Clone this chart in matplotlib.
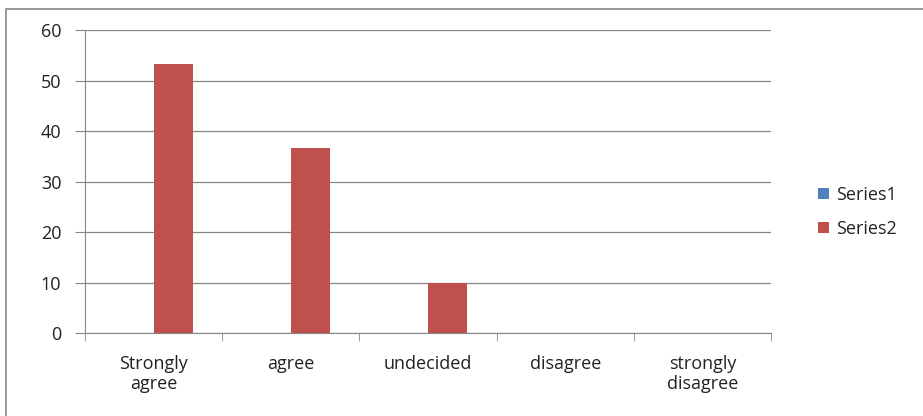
import matplotlib.pyplot as plt
import matplotlib.patches as mpatches
import numpy as np

categories = ["Strongly\nagree", "agree", "undecided", "disagree", "strongly\ndisagree"]
series1 = [0, 0, 0, 0, 0]
series2 = [53.33, 36.67, 10, 0, 0]
series_names = ["Series1", "Series2"]
colors = ["#4F81BD", "#C0504D"]

plt.rcParams['font.family'] = ['Open Sans', 'DejaVu Sans']

fig = plt.figure(figsize=(9.23, 4.16), dpi=100)
# outer chart frame
fig.patches.append(mpatches.Rectangle((6 / 923, -0.05), 2, 1 - 9 / 416 + 0.05,
                                      transform=fig.transFigure, fill=False,
                                      edgecolor="#868686", linewidth=1.2))
ax = fig.add_axes([85 / 923, 1 - 333 / 416, (771 - 85) / 923, (333 - 30) / 416])

x = np.arange(len(categories))
w = 1 / 3.5
ax.bar(x - w / 2, series1, w, color=colors[0], label=series_names[0])
ax.bar(x + w / 2, series2, w, color=colors[1], label=series_names[1])

ax.set_xlim(-0.5, len(categories) - 0.5)
ax.set_ylim(0, 60)
ax.set_yticks(range(0, 61, 10))
ax.yaxis.grid(True, color="#868686", linewidth=0.9)
ax.set_axisbelow(True)

ax.set_xticks(x)
ax.set_xticklabels(categories, fontsize=13, linespacing=1.15, color="#222222")
ax.tick_params(axis="x", length=0, pad=16)
ax.set_xticks(np.arange(-0.5, len(categories)), minor=True)
ax.tick_params(axis="x", which="minor", length=6, color="#868686")
ax.tick_params(axis="y", length=7, color="#868686", labelsize=13, pad=10,
               labelcolor="#222222")

for s in ["top", "right"]:
    ax.spines[s].set_visible(False)
for s in ["left", "bottom"]:
    ax.spines[s].set_color("#868686")

leg = ax.legend(loc="center left", bbox_to_anchor=(1.045, 0.4), frameon=False,
                fontsize=13, handlelength=0.6, handleheight=0.6, labelspacing=0.9,
                handletextpad=0.4)
for t in leg.get_texts():
    t.set_color("#222222")

fig.savefig("out.png", dpi=100)
